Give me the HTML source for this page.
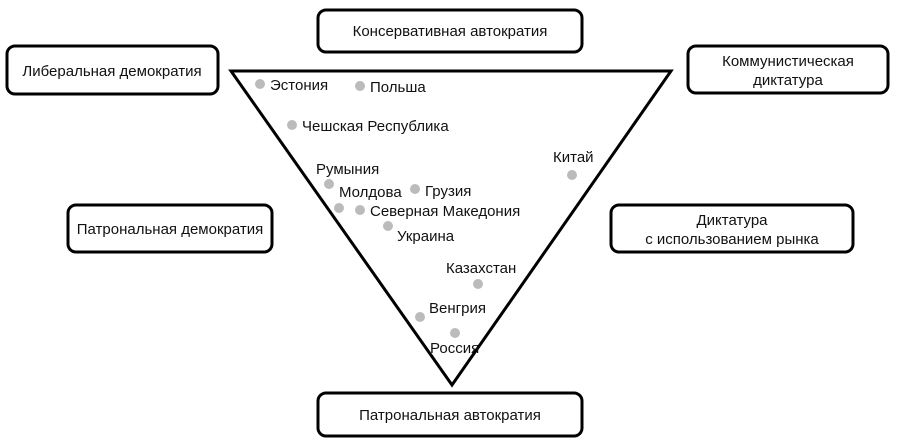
<!DOCTYPE html>
<html><head><meta charset="utf-8"><style>
html,body{margin:0;padding:0;background:#fff;}
svg{display:block;}
text{font-family:"Liberation Sans","DejaVu Sans",sans-serif;font-size:15px;fill:#111;}
</style></head><body>
<svg width="900" height="446" viewBox="0 0 900 446" xmlns="http://www.w3.org/2000/svg">
<g fill="none" stroke="#000" stroke-width="3">
<rect x="318" y="10" width="264" height="42" rx="8"/>
<rect x="7" y="46" width="211" height="48" rx="8"/>
<rect x="688" y="46" width="200" height="47" rx="8"/>
<rect x="68" y="205" width="204" height="47" rx="8"/>
<rect x="611" y="205" width="242" height="47" rx="8"/>
<rect x="318" y="393" width="264" height="43" rx="8"/>
<polygon points="231,71 671,71 452,385" stroke-linejoin="miter"/>
</g>
<g text-anchor="middle">
<text x="450" y="36">Консервативная автократия</text>
<text x="112" y="76">Либеральная демократия</text>
<text x="788" y="66">Коммунистическая</text>
<text x="788" y="85">диктатура</text>
<text x="170" y="234">Патрональная демократия</text>
<text x="732" y="225">Диктатура</text>
<text x="732" y="244">с использованием рынка</text>
<text x="450" y="420">Патрональная автократия</text>
</g>
<g fill="#bbb">
<circle cx="260" cy="84" r="5"/><circle cx="360" cy="86" r="5"/>
<circle cx="292" cy="125" r="5"/><circle cx="329" cy="184" r="5"/>
<circle cx="339" cy="208" r="5"/><circle cx="415" cy="189" r="5"/>
<circle cx="360" cy="210" r="5"/><circle cx="388" cy="226" r="5"/>
<circle cx="572" cy="175" r="5"/><circle cx="478" cy="284" r="5"/>
<circle cx="420" cy="317" r="5"/><circle cx="455" cy="333" r="5"/>
</g>
<text x="270" y="90">Эстония</text>
<text x="370" y="92">Польша</text>
<text x="302" y="131">Чешская Республика</text>
<text x="316" y="174">Румыния</text>
<text x="339" y="197">Молдова</text>
<text x="425" y="196">Грузия</text>
<text x="370" y="216">Северная Македония</text>
<text x="397" y="241">Украина</text>
<text x="553" y="162">Китай</text>
<text x="446" y="273">Казахстан</text>
<text x="429" y="313">Венгрия</text>
<text x="430" y="353">Россия</text>
</svg>
</body></html>
